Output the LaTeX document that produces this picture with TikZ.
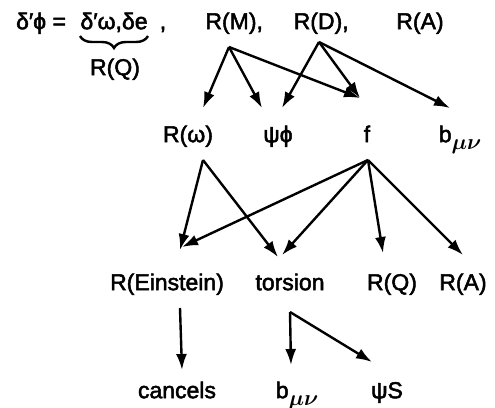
\documentclass[tikz,border=0pt]{standalone}
\usepackage{fontspec}
\usetikzlibrary{arrows.meta,calc,decorations.pathreplacing}
\newfontfamily\diagfont{Liberation Sans}[FakeBold=2.2]
\newcommand{\mn}{\raisebox{-3.5pt}{\fontsize{11}{12}\selectfont\boldmath$\mu\nu$}}
\begin{document}
\begin{tikzpicture}[x=0.5pt,y=-0.5pt,font=\diagfont\fontsize{11.5}{13}\selectfont,
  lbl/.style={inner sep=0pt,text height=8.2pt,text depth=0pt},
  arr/.style={-{Latex[length=8pt,width=5.5pt]},line width=1.2pt}]
\useasboundingbox (0,0) rectangle (495,408);
% top line
\node[lbl] (dphi) at (41,21) {δ′ϕ =};
\node[lbl] (dvar) at (114,21) {δ′ω,δe};
\node[lbl] (comma) at (163,21) {,};
\draw[line width=1.2pt,decorate,decoration={brace,mirror,amplitude=6pt}] (80,36) -- (148,36);
\node[lbl] (rq) at (115,67) {R(Q)};
\node[lbl] (rm) at (231,21) {R(M)\rlap{,}};
\node[lbl] (rd) at (318,21) {R(D)\rlap{,}};
\node[lbl] (ra) at (420,21) {R(A)};
% second line
\node[lbl] (rw) at (188,134) {R(ω)};
\node[lbl] (psiphi) at (278,134) {ψϕ};
\node[lbl] (f) at (367,134) {f};
\node[lbl] (bmn) at (460,134) {b\mn};
% third line
\node[lbl] (rein) at (167,282) {R(Einstein)};
\node[lbl] (tors) at (290,282) {torsion};
\node[lbl] (rq2) at (392,282) {R(Q)};
\node[lbl] (ra2) at (463,282) {R(A)};
% bottom line
\node[lbl] (canc) at (177,390) {cancels};
\node[lbl] (bmn2) at (297,390) {b\mn};
\node[lbl] (psis) at (387,390) {ψS};
% arrows
\draw[arr] ($(rm)+(-2,26)$) -- ($(rw)+(15,-26)$);
\draw[arr] ($(rm)+(-2,26)$) -- ($(psiphi)+(-16,-26)$);
\draw[arr] ($(rm)+(-2,26)$) -- ($(f)+(-7,-36)$);
\draw[arr] ($(rd)+(1,21)$) -- ($(psiphi)+(4,-26)$);
\draw[arr] ($(rd)+(1,21)$) -- ($(f)+(-7,-36)$);
\draw[arr] ($(rd)+(1,21)$) -- ($(bmn)+(-10,-26)$);
\draw[arr] ($(rw)+(15,26)$) -- ($(rein)+(13,-32)$);
\draw[arr] ($(rw)+(15,26)$) -- ($(tors)+(-12,-25)$);
\draw[arr] ($(f)+(1,26)$) -- ($(rein)+(15,-35)$);
\draw[arr] ($(f)+(1,26)$) -- ($(tors)+(-8,-27)$);
\draw[arr] ($(f)+(1,26)$) -- ($(rq2)+(-9,-29)$);
\draw[arr] ($(f)+(1,26)$) -- ($(ra2)+(0,-27)$);
\draw[arr] ($(rein)+(13,26)$) -- ($(canc)+(5,-20)$);
\draw[arr] ($(tors)+(0,30)$) -- ($(bmn2)+(-6,-25)$);
\draw[arr] ($(tors)+(0,30)$) -- ($(psis)+(-15,-28)$);
\end{tikzpicture}
\end{document}
